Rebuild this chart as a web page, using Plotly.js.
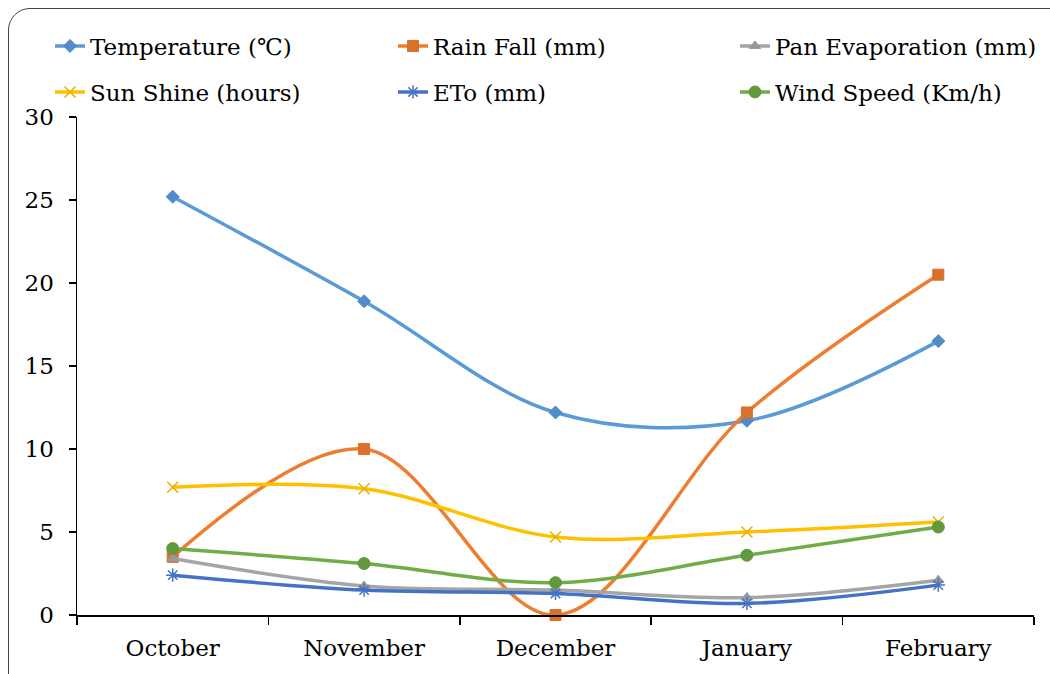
<!DOCTYPE html>
<html>
<head>
<meta charset="utf-8">
<script src="https://cdn.plot.ly/plotly-3.0.1.min.js"></script>
<style>
html,body{margin:0;padding:0;width:1050px;height:674px;overflow:hidden;background:#fff;}
#frame{position:absolute;left:8px;top:8px;width:1070px;height:690px;border:1.5px solid #444;border-radius:22px;box-sizing:border-box;pointer-events:none;z-index:10;}
#chart{position:absolute;left:0;top:0;width:1050px;height:674px;}
</style>
</head>
<body>
<div id="chart"></div>
<div id="frame"></div>
<script>
const months = ["October", "November", "December", "January", "February"];
const temperature = [25.2, 18.9, 12.2, 11.7, 16.5];
const rainFall = [3.5, 10.0, 0.0, 12.2, 20.5];
const panEvaporation = [3.4, 1.75, 1.5, 1.05, 2.1];
const sunShine = [7.7, 7.6, 4.7, 5.0, 5.6];
const eto = [2.4, 1.5, 1.3, 0.7, 1.8];
const windSpeed = [4.0, 3.1, 1.95, 3.6, 5.3];
const yTicks = [0, 5, 10, 15, 20, 25, 30];

const FONT = "DejaVu Serif";
const FS = 23;

function tr(name, y, color, mcolor, symbol, msize, legend) {
  return {
    type: "scatter", mode: "lines+markers", name: name, x: months, y: y,
    line: {color: color, width: 3.5, shape: "spline", smoothing: 1},
    marker: {color: mcolor, symbol: symbol, size: msize, line: {color: mcolor, width: 1}},
    legend: legend, cliponaxis: false
  };
}

const data = [
  tr("Temperature (℃)", temperature, "#5B9BD5", "#4F8CC9", "diamond", 10, "legend"),
  tr("Rain Fall (mm)", rainFall, "#ED7D31", "#D9702B", "square", 11, "legend2"),
  tr("Pan Evaporation (mm)", panEvaporation, "#A5A5A5", "#999999", "triangle-up", 10, "legend3"),
  tr("Sun Shine (hours)", sunShine, "#FFC000", "#E8AF00", "x-thin-open", 11, "legend4"),
  tr("ETo (mm)", eto, "#4472C4", "#4472C4", "asterisk-open", 11, "legend5"),
  tr("Wind Speed (Km/h)", windSpeed, "#70AD47", "#62993C", "circle", 12, "legend6")
];
data[3].marker.line.width = 1.5;
data[4].marker.line.width = 1.5;

function leg(textX, rowY) {
  return {
    orientation: "h", xref: "container", yref: "container",
    xanchor: "left", yanchor: "middle",
    x: (textX - 40) / 1050, y: 1 - rowY / 674,
    font: {family: FONT, size: FS, color: "#000"},
    bgcolor: "rgba(0,0,0,0)", borderwidth: 0
  };
}

const layout = {
  width: 1050, height: 674,
  margin: {l: 77, r: 16, t: 117, b: 59, autoexpand: false},
  paper_bgcolor: "#fff", plot_bgcolor: "#fff",
  font: {family: FONT, size: FS, color: "#000"},
  showlegend: true,
  legend: leg(90, 46),
  legend2: leg(433, 46),
  legend3: leg(775, 46),
  legend4: leg(90, 92),
  legend5: leg(433, 92),
  legend6: leg(775, 92),
  xaxis: {
    type: "category", showgrid: false, zeroline: false,
    showline: true, linecolor: "#000", linewidth: 1.5,
    ticks: "outside", ticklen: 8, tickcolor: "#000", tickwidth: 1.5,
    tickson: "boundaries", range: [-0.5, 4.5], ticklabelstandoff: 12,
    tickfont: {family: FONT, size: FS, color: "#000"}
  },
  yaxis: {
    range: [0, 30], tickvals: yTicks, ticktext: yTicks.map(String),
    showgrid: false, zeroline: false,
    showline: true, linecolor: "#000", linewidth: 1.5,
    ticks: "outside", ticklen: 7, tickcolor: "#000", tickwidth: 1.5,
    ticklabelstandoff: 10,
    tickfont: {family: FONT, size: FS, color: "#000"}
  }
};

Plotly.newPlot("chart", data, layout, {displayModeBar: false, staticPlot: true});
</script>
</body>
</html>
